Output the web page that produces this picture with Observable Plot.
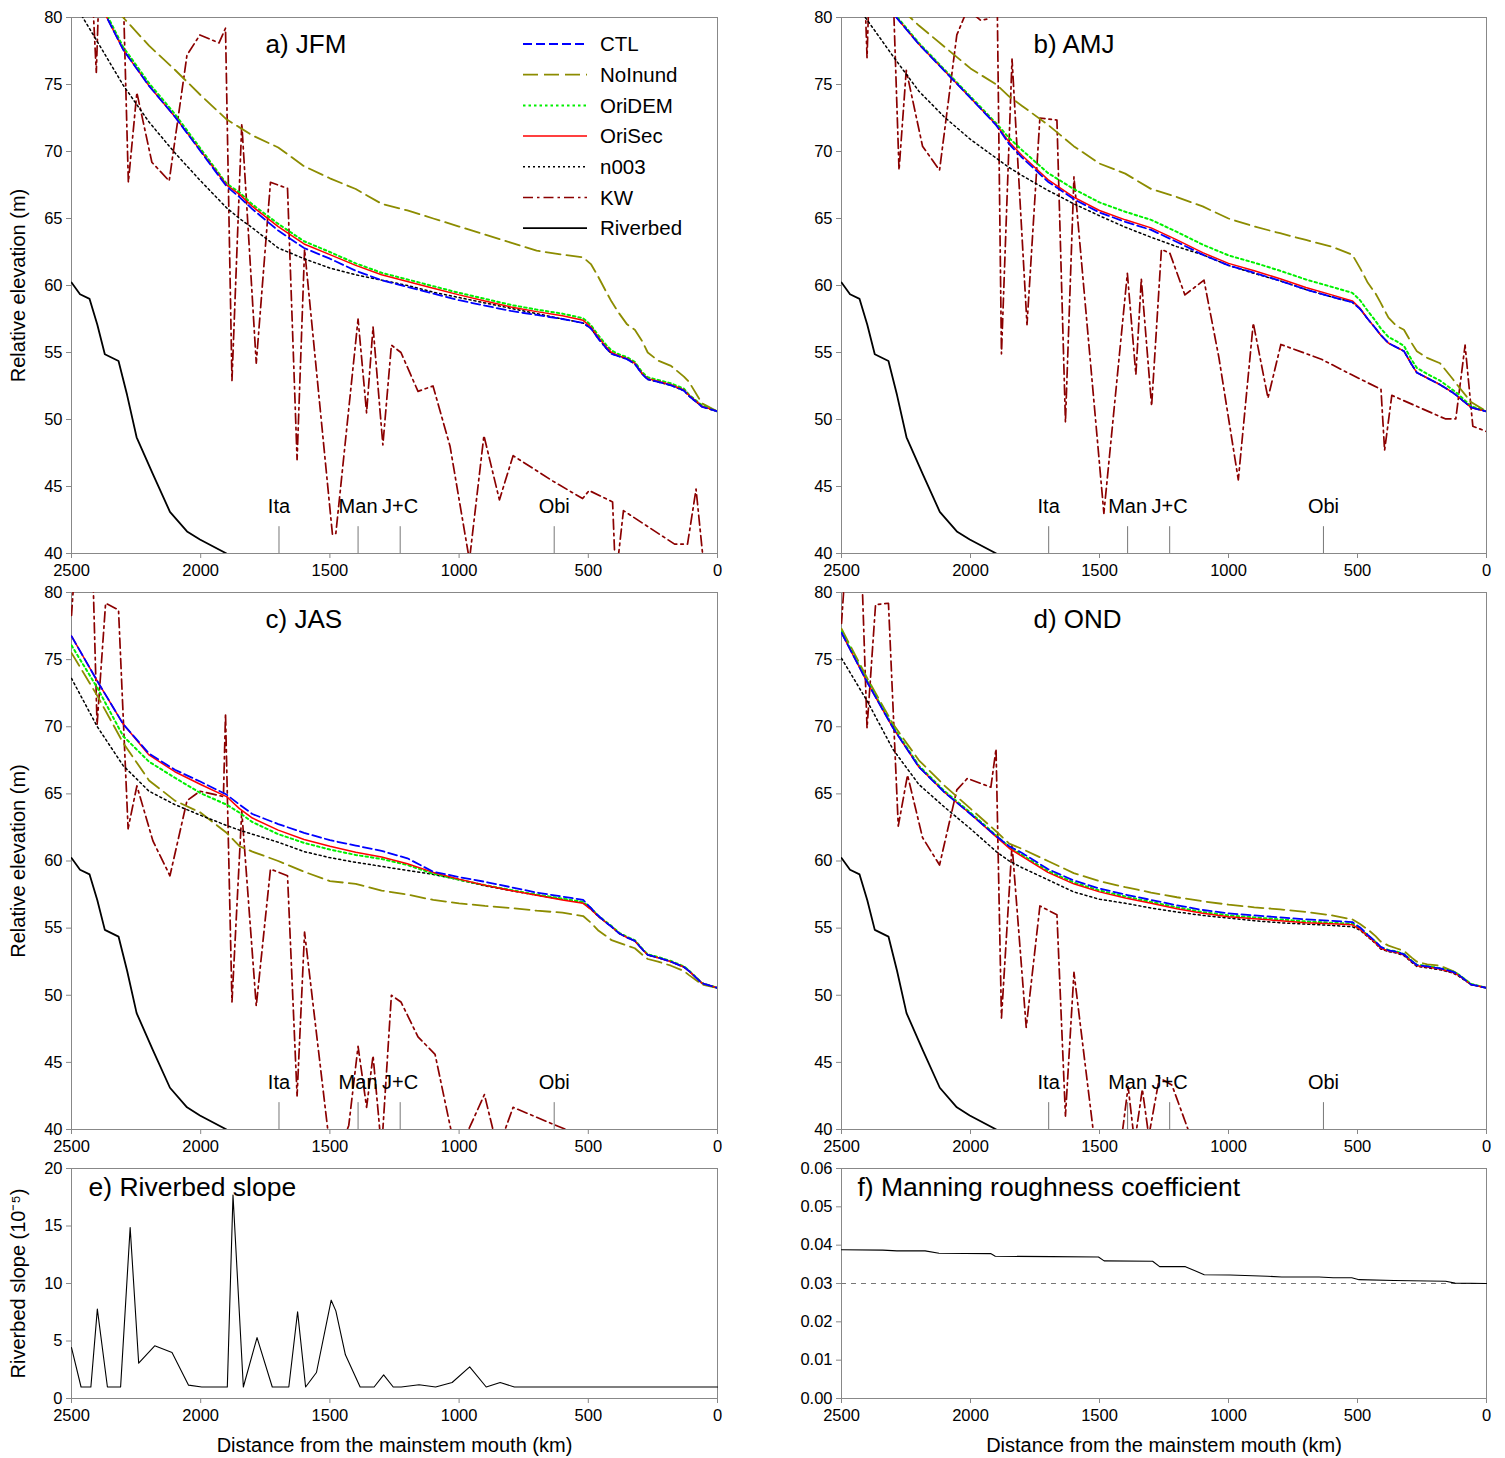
<!DOCTYPE html>
<html><head><meta charset="utf-8">
<script src="https://cdn.jsdelivr.net/npm/d3@7"></script>
<script src="https://cdn.jsdelivr.net/npm/@observablehq/plot@0.6"></script>
<style>
body{margin:0;background:#fff;}
#fig{position:relative;width:1505px;height:1458px;background:#fff;overflow:hidden;}
#fig > svg{position:absolute;}
</style></head><body><div id="fig"></div>
<script>
// ---------------- DATA ----------------
const gridKm = [2500,2400,2300,2200,2100,2000,1900,1850,1800,1700,1600,1500,1400,1300,1200,1100,1000,900,800,700,600,520,490,460,430,410,380,350,320,290,270,230,180,130,110,60,0];

// a) JFM
const ctlJFM     = [85,81.4,77.6,74.9,72.6,70.0,67.4,66.6,65.7,64.1,62.8,62.0,61.1,60.4,59.9,59.4,58.9,58.5,58.1,57.8,57.5,57.2,56.8,56.0,55.3,54.9,54.7,54.5,54.15,53.35,53.0,52.8,52.55,52.15,51.75,50.95,50.6];
const noinundJFM = [83.9,81.9,80.0,77.9,76.1,74.2,72.4,71.8,71.2,70.3,68.9,68.0,67.2,66.1,65.6,65.0,64.4,63.8,63.2,62.6,62.3,62.1,61.6,60.6,59.5,58.8,57.9,57.1,56.7,55.8,55.0,54.4,54.0,53.2,52.8,51.2,50.6];
const oridemJFM  = [85.2,81.6,77.8,75.1,72.8,70.2,67.6,66.95,66.05,64.6,63.3,62.5,61.65,60.95,60.45,59.95,59.45,59.0,58.55,58.2,57.9,57.55,57.05,56.25,55.55,55.15,54.85,54.65,54.3,53.5,53.15,52.95,52.7,52.3,51.85,51.05,50.6];
const orisecJFM  = [85,81.4,77.6,74.9,72.6,70.05,67.5,66.8,65.9,64.4,63.1,62.3,61.5,60.8,60.3,59.8,59.3,58.85,58.4,58.05,57.75,57.4,56.9,56.1,55.4,55.0,54.75,54.55,54.2,53.4,53.05,52.85,52.6,52.2,51.8,51.0,50.6];
const n003JFM    = [81.4,78.2,74.95,72.2,69.9,67.8,65.8,65.0,64.3,62.8,62.0,61.3,60.8,60.4,60.0,59.5,59.1,58.7,58.3,57.9,57.5,57.2,56.8,56.0,55.3,54.9,54.7,54.5,54.15,53.35,53.0,52.8,52.55,52.15,51.75,50.95,50.6];
const kwJFM = [[2500,84],[2430,86],[2404,75.9],[2392,83],[2300,82],[2280,67.7],[2247,74.4],[2189,69.2],[2122,67.8],[2053,77.2],[2003,78.7],[1929,78.1],[1904,79.2],[1879,52.9],[1841,72.1],[1785,54.2],[1730,67.7],[1664,67.25],[1627,47.0],[1598,62.7],[1490,41.4],[1477,41.5],[1391,57.5],[1358,50.5],[1333,56.9],[1295,48.1],[1262,55.55],[1225,55.0],[1159,52.1],[1101,52.5],[1035,48.0],[960,39.5],[904,48.8],[844,44.0],[791,47.3],[637,45.4],[522,44.1],[497,44.7],[406,43.85],[394,38],[364,43.2],[166,40.7],[116,40.7],[83,44.8],[50,38.5],[0,37]];

// b) AMJ
const ctlAMJ     = [85.5,82.6,80.3,78.0,76.0,74.0,71.95,70.55,69.55,67.75,66.45,65.45,64.75,64.15,63.25,62.3,61.5,60.95,60.35,59.7,59.15,58.75,58.25,57.5,56.8,56.3,55.7,55.4,55.1,54.1,53.5,53.1,52.6,52.0,51.7,50.9,50.6];
const noinundAMJ = [85.0,83.0,81.2,79.4,77.8,76.2,75.0,74.1,73.4,72.0,70.4,69.1,68.35,67.2,66.6,65.9,65.0,64.4,63.9,63.4,62.9,62.3,61.3,60.2,59.4,58.7,57.6,57.0,56.7,55.7,55.1,54.6,54.2,53.0,52.5,51.3,50.6];
const oridemAMJ  = [85.6,82.7,80.4,78.1,76.1,74.1,72.1,71.0,70.1,68.4,67.2,66.2,65.5,64.9,64.0,63.05,62.25,61.7,61.1,60.45,59.9,59.45,58.9,58.1,57.35,56.8,56.15,55.85,55.5,54.45,53.85,53.4,52.9,52.2,51.9,51.0,50.6];
const orisecAMJ  = [85.5,82.6,80.3,78.0,76.0,74.0,72.0,70.7,69.7,67.9,66.6,65.6,64.9,64.3,63.4,62.45,61.65,61.1,60.5,59.85,59.3,58.85,58.3,57.5,56.8,56.3,55.7,55.4,55.1,54.1,53.5,53.1,52.6,52.0,51.7,50.9,50.6];
const n003AMJ    = [82.4,79.8,77.1,74.5,72.55,70.9,69.5,68.8,68.2,67.1,66.1,65.2,64.35,63.6,62.9,62.3,61.5,60.9,60.35,59.7,59.15,58.75,58.25,57.5,56.8,56.3,55.7,55.4,55.1,54.1,53.5,53.1,52.6,52.0,51.7,50.9,50.6];
const kwAMJ = [[2500,84],[2415,85],[2401,77.0],[2390,84],[2300,82],[2277,68.6],[2249,76.06],[2186,70.4],[2120,68.6],[2053,78.7],[2012,80.6],[1961,79.8],[1930,79.9],[1910,81],[1896,80.5],[1880,54.9],[1839,76.9],[1781,57.07],[1731,72.5],[1665,72.35],[1632,49.8],[1599,68.1],[1483,43.0],[1392,60.9],[1359,53.35],[1338,60.5],[1298,51.0],[1260,62.7],[1227,62.4],[1169,59.3],[1095,60.4],[1037,54.6],[962,45.5],[904,57.2],[847,51.6],[797,55.6],[640,54.5],[524,53.35],[409,52.25],[395,47.7],[367,51.8],[160,50.05],[119,50.05],[83,55.55],[53,49.5],[0,49.1]];

// c) JAS
const ctlJAS     = [76.75,73.4,70.2,68.0,66.8,65.9,64.95,64.2,63.5,62.75,62.1,61.55,61.15,60.75,60.2,59.2,58.8,58.45,58.05,57.65,57.35,57.1,56.5,55.9,55.4,55.1,54.6,54.3,54.05,53.4,53.0,52.8,52.5,52.1,51.8,50.9,50.55];
const noinundJAS = [75.5,72.3,68.8,66.0,64.5,63.6,62.1,61.1,60.7,60.0,59.2,58.5,58.3,57.8,57.5,57.1,56.85,56.65,56.5,56.3,56.15,55.9,55.4,54.8,54.4,54.1,53.9,53.7,53.5,53.0,52.7,52.5,52.2,51.8,51.5,50.8,50.55];
const oridemJAS  = [76.06,72.9,69.3,67.4,66.2,65.05,64.2,63.6,62.9,62.0,61.35,60.85,60.45,60.15,59.7,59.05,58.6,58.2,57.85,57.5,57.2,56.95,56.5,55.9,55.45,55.15,54.65,54.35,54.1,53.45,53.05,52.85,52.55,52.15,51.85,50.9,50.55];
const orisecJAS  = [76.75,73.4,70.2,67.9,66.65,65.7,64.8,63.9,63.2,62.3,61.6,61.1,60.65,60.3,59.8,59.15,58.65,58.2,57.8,57.45,57.1,56.85,56.4,55.85,55.4,55.1,54.6,54.3,54.05,53.4,53.0,52.8,52.5,52.1,51.8,50.9,50.55];
const n003JAS    = [73.6,70.0,67.1,65.2,64.2,63.4,62.65,62.3,62.0,61.4,60.7,60.25,59.9,59.6,59.3,59.0,58.6,58.15,57.8,57.45,57.15,56.9,56.4,55.85,55.4,55.1,54.6,54.3,54.05,53.4,53.0,52.8,52.5,52.1,51.8,50.9,50.55];
const kwJAS = [[2500,78.3],[2487,82],[2440,84],[2418,82],[2401,70.15],[2368,79.2],[2318,78.7],[2281,62.4],[2247,65.6],[2185,61.5],[2119,58.9],[2053,64.5],[2003,65.2],[1912,64.8],[1904,71.0],[1879,49.5],[1841,63.7],[1785,49.2],[1730,59.4],[1664,58.9],[1627,42.5],[1598,54.7],[1490,37],[1427,40.3],[1391,46.2],[1358,41.65],[1333,45.5],[1300,38.5],[1262,50.0],[1225,49.5],[1159,46.9],[1093,45.6],[1010,38],[902,42.6],[850,38.5],[791,41.65],[637,40.4],[560,39.8],[400,38.5],[0,37]];

// d) OND
const ctlOND     = [77.0,73.3,69.9,67.0,65.1,63.5,61.85,61.1,60.6,59.4,58.55,57.95,57.5,57.1,56.7,56.35,56.1,55.95,55.8,55.65,55.55,55.45,55.05,54.5,54.0,53.6,53.35,53.25,53.05,52.55,52.25,52.15,52.0,51.75,51.55,50.8,50.55];
const noinundOND = [77.3,73.6,70.2,67.5,65.6,63.9,62.2,61.3,60.9,60.0,59.1,58.5,58.05,57.65,57.3,57.0,56.75,56.55,56.4,56.2,55.95,55.65,55.3,54.9,54.4,54.0,53.7,53.5,53.3,52.8,52.5,52.3,52.2,51.8,51.6,50.8,50.55];
const oridemOND  = [77.1,73.4,70.0,67.1,65.2,63.6,61.9,61.05,60.45,59.25,58.4,57.8,57.35,56.95,56.55,56.2,55.95,55.8,55.65,55.5,55.4,55.33,54.97,54.47,53.97,53.57,53.37,53.27,53.07,52.57,52.27,52.17,52.02,51.77,51.57,50.85,50.55];
const orisecOND  = [77.0,73.3,69.9,67.0,65.1,63.5,61.8,60.95,60.35,59.15,58.3,57.7,57.25,56.85,56.45,56.1,55.85,55.7,55.55,55.4,55.32,55.25,54.9,54.4,53.9,53.5,53.3,53.2,53.0,52.5,52.2,52.1,51.95,51.7,51.5,50.8,50.55];
const n003OND    = [75.1,71.9,68.3,65.7,64.0,62.4,60.7,60.0,59.5,58.6,57.7,57.15,56.85,56.5,56.2,55.95,55.75,55.55,55.4,55.3,55.2,55.1,54.85,54.35,53.85,53.45,53.25,53.15,52.95,52.45,52.15,52.05,51.9,51.65,51.45,50.8,50.55];
const kwOND = [[2500,77.7],[2485,82],[2440,84],[2422,82],[2401,69.9],[2368,79.1],[2318,79.2],[2280,62.6],[2244,66.4],[2186,61.75],[2120,59.7],[2053,65.3],[2012,66.15],[1921,65.5],[1901,68.35],[1880,48.3],[1839,61.2],[1784,47.6],[1731,56.65],[1665,56.0],[1632,41.0],[1599,51.7],[1516,38.6],[1420,38.5],[1389,43.2],[1364,39],[1334,43.0],[1309,39.5],[1268,43.85],[1219,43.3],[1119,38],[0,36]];

// Riverbed elevation (same in all seasons)
const riverbed = [[2500,60.23],[2467,59.35],[2430,59.0],[2400,57.07],[2371,54.87],[2318,54.37],[2285,51.84],[2248,48.67],[2185,45.92],[2119,43.11],[2053,41.65],[2003,41.04],[1900,40.0]];

// Gauging stations
const stationNames = ["Ita","Man","J+C","Obi"];
const stationKm = [1697,1391,1228,632];

// e) riverbed slope (1e-5)
const slopeE = [[2500,4.43],[2463,1.0],[2425,1.0],[2400,7.77],[2361,1.0],[2310,1.0],[2273,14.87],[2240,3.07],[2178,4.58],[2111,4.0],[2047,1.16],[1996,1.0],[1897,1.0],[1875,17.7],[1835,1.0],[1782,5.3],[1723,1.0],[1659,1.0],[1625,7.54],[1594,1.0],[1552,2.26],[1495,8.55],[1477,7.62],[1440,3.8],[1383,1.0],[1329,1.0],[1292,2.06],[1255,1.0],[1224,1.0],[1155,1.19],[1091,1.0],[1027,1.39],[959,2.75],[895,1.0],[841,1.39],[786,1.0],[0,1.0]];

// f) Manning coefficient
const manningF = [[2500,0.0388],[2340,0.0387],[2285,0.0385],[2176,0.0385],[2122,0.0379],[1922,0.0378],[1904,0.0371],[1685,0.0370],[1504,0.0369],[1482,0.0359],[1294,0.0358],[1267,0.0344],[1167,0.0344],[1094,0.0323],[994,0.0322],[849,0.0319],[794,0.0317],[649,0.0317],[594,0.0315],[522,0.0315],[494,0.0310],[358,0.0308],[158,0.0306],[122,0.0301],[0,0.0300]];
const manningRef = 0.03;

const seriesNames = ["CTL","NoInund","OriDEM","OriSec","n003","KW","Riverbed"];
const xTicks = [2500,2000,1500,1000,500,0];
const elevTicks = [40,45,50,55,60,65,70,75,80];
const slopeTicks = [0,5,10,15,20];
const manningTicks = [0,0.01,0.02,0.03,0.04,0.05,0.06];

// ---------------- STYLE ----------------
const FONT = '"Liberation Sans", Arial, Helvetica, sans-serif';
const seriesStyle = {
  CTL:      {stroke:"#0000ff", strokeWidth:1.8, strokeDasharray:"9,4"},
  NoInund:  {stroke:"#8c8c00", strokeWidth:1.8, strokeDasharray:"15,6"},
  OriDEM:   {stroke:"#00f000", strokeWidth:2,   strokeDasharray:"2.5,3"},
  OriSec:   {stroke:"#ff0000", strokeWidth:1.5},
  n003:     {stroke:"#000000", strokeWidth:1.5, strokeDasharray:"2,3"},
  KW:       {stroke:"#8b0000", strokeWidth:1.7, strokeDasharray:"10,4,2.5,4"},
  Riverbed: {stroke:"#000000", strokeWidth:1.8}
};

const fig = document.getElementById("fig");
const stationRows = stationNames.map((name,i)=>({name, km: stationKm[i]}));
const gridRows = vals => gridKm.map((km,i)=>({km, v: vals[i]}));
const pairRows = pairs => pairs.map(([km,v])=>({km, v}));

function axes(yTicks, yFormat){
  return [
    Plot.frame({stroke:"#888", strokeWidth:1}),
    Plot.axisX({ticks:xTicks, tickFormat:"d", tickSize:5, tickPadding:6, stroke:"#888", fill:"#000", fontSize:16.5, label:null}),
    Plot.axisY({ticks:yTicks, tickFormat:yFormat, tickSize:5, tickPadding:4, stroke:"#888", fill:"#000", fontSize:16.5, label:null})
  ];
}

function place(svg, left, top){
  svg.style.left = left + "px";
  svg.style.top = top + "px";
  fig.appendChild(svg);
  return svg;
}

const panels = [
  {title:"a) JFM", left:0,   top:0,   width:740, mr:23, mb:47, dx:194, kw:kwJFM, vals:{CTL:ctlJFM, NoInund:noinundJFM, OriDEM:oridemJFM, OriSec:orisecJFM, n003:n003JFM}, ylab:true, legend:true},
  {title:"b) AMJ", left:770, top:0,   width:735, mr:19, mb:47, dx:192, kw:kwAMJ, vals:{CTL:ctlAMJ, NoInund:noinundAMJ, OriDEM:oridemAMJ, OriSec:orisecAMJ, n003:n003AMJ}},
  {title:"c) JAS", left:0,   top:575, width:740, mr:23, mb:46, dx:194, kw:kwJAS, vals:{CTL:ctlJAS, NoInund:noinundJAS, OriDEM:oridemJAS, OriSec:orisecJAS, n003:n003JAS}, ylab:true},
  {title:"d) OND", left:770, top:575, width:735, mr:19, mb:46, dx:192, kw:kwOND, vals:{CTL:ctlOND, NoInund:noinundOND, OriDEM:oridemOND, OriSec:orisecOND, n003:n003OND}}
];

const drawOrder = ["Riverbed","KW","NoInund","n003","OriDEM","OriSec","CTL"];

for (const p of panels){
  const marks = [...axes(elevTicks, "d")];
  for (const name of drawOrder){
    const rows = name === "Riverbed" ? pairRows(riverbed) : name === "KW" ? pairRows(p.kw) : gridRows(p.vals[name]);
    marks.push(Plot.line(rows, {x:"km", y:"v", ...seriesStyle[name], clip:true}));
  }
  marks.push(Plot.ruleX(stationRows, {x:"km", y1:40, y2:42, stroke:"#777", strokeWidth:1}));
  marks.push(Plot.text(stationRows, {x:"km", y:43.5, text:"name", fontSize:20, fill:"#000"}));
  marks.push(Plot.text([p.title], {frameAnchor:"top-left", dx:p.dx, dy:27, text:d=>d, textAnchor:"start", lineAnchor:"middle", fontSize:26, fill:"#000"}));
  if (p.ylab) marks.push(Plot.text(["Relative elevation (m)"], {frameAnchor:"left", dx:-53, rotate:-90, text:d=>d, textAnchor:"middle", lineAnchor:"middle", fontSize:20, fill:"#000"}));
  const svg = Plot.plot({
    width:p.width, height:600, marginLeft:71, marginRight:p.mr, marginTop:17, marginBottom:p.mb,
    x:{domain:[2500,0]}, y:{domain:[40,80]},
    style:{fontFamily:FONT, fontSize:"16px", background:"transparent", overflow:"visible"},
    marks
  });
  place(svg, p.left, p.top);
  if (p.legend){
    const g = d3.select(svg).append("g").attr("font-family", FONT).attr("font-size", 20.5).attr("text-anchor", "start");
    seriesNames.forEach((name,i)=>{
      const st = seriesStyle[name];
      const y = 44 + i*30.7;
      g.append("line").attr("x1",523).attr("x2",587).attr("y1",y).attr("y2",y)
        .attr("stroke",st.stroke).attr("stroke-width",st.strokeWidth)
        .attr("stroke-dasharray", st.strokeDasharray || null);
      g.append("text").attr("x",600).attr("y",y).attr("dy","0.35em").attr("fill","#000").text(name);
    });
  }
}

// e) Riverbed slope
{
  const svg = Plot.plot({
    width:740, height:308, marginLeft:71, marginRight:23, marginTop:18, marginBottom:60,
    x:{domain:[2500,0]}, y:{domain:[0,20]},
    style:{fontFamily:FONT, fontSize:"16px", background:"transparent", overflow:"visible"},
    marks:[
      ...axes(slopeTicks, "d"),
      Plot.line(pairRows(slopeE), {x:"km", y:"v", stroke:"#000", strokeWidth:1.1}),
      Plot.text(["e) Riverbed slope"], {frameAnchor:"top-left", dx:17, dy:19, text:d=>d, textAnchor:"start", lineAnchor:"middle", fontSize:26.5, fill:"#000"}),
      Plot.text(["Riverbed slope (10⁻⁵)"], {frameAnchor:"left", dx:-53, rotate:-90, text:d=>d, textAnchor:"middle", lineAnchor:"middle", fontSize:20, fill:"#000"}),
      Plot.text(["Distance from the mainstem mouth (km)"], {frameAnchor:"bottom", dy:47, text:d=>d, lineAnchor:"middle", fontSize:20, fill:"#000"})
    ]
  });
  place(svg, 0, 1150);
}

// f) Manning roughness coefficient
{
  const svg = Plot.plot({
    width:735, height:308, marginLeft:71, marginRight:19, marginTop:18, marginBottom:60,
    x:{domain:[2500,0]}, y:{domain:[0,0.06]},
    style:{fontFamily:FONT, fontSize:"16px", background:"transparent", overflow:"visible"},
    marks:[
      ...axes(manningTicks, ".2f"),
      Plot.ruleY([manningRef], {stroke:"#777", strokeWidth:1, strokeDasharray:"5,5"}),
      Plot.line(pairRows(manningF), {x:"km", y:"v", stroke:"#000", strokeWidth:1.1}),
      Plot.text(["f) Manning roughness coefficient"], {frameAnchor:"top-left", dx:16, dy:19, text:d=>d, textAnchor:"start", lineAnchor:"middle", fontSize:26.5, fill:"#000"}),
      Plot.text(["Distance from the mainstem mouth (km)"], {frameAnchor:"bottom", dy:47, text:d=>d, lineAnchor:"middle", fontSize:20, fill:"#000"})
    ]
  });
  place(svg, 770, 1150);
}
</script></body></html>
